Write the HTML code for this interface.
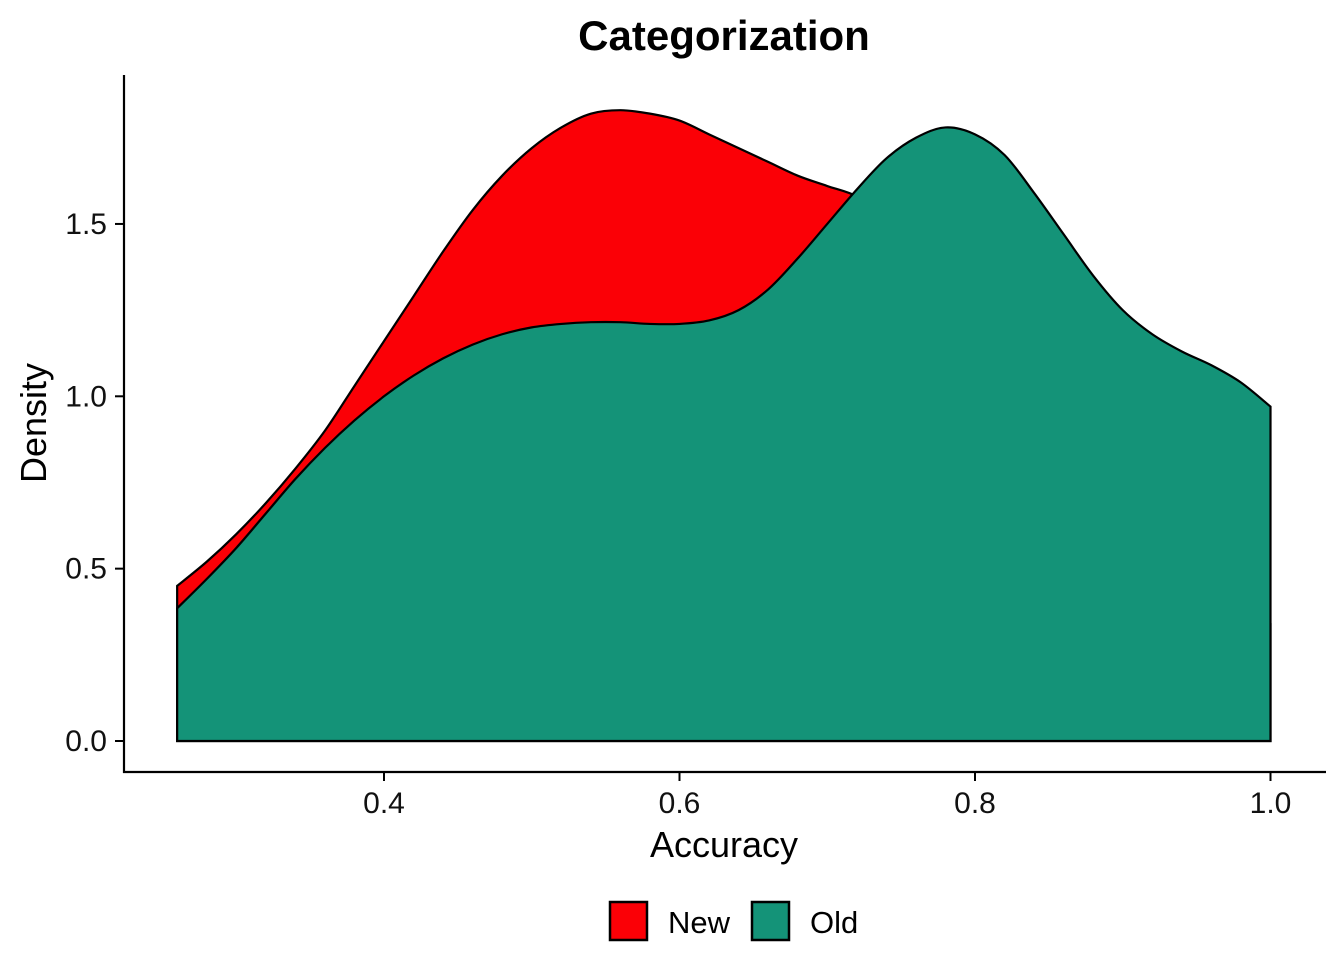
<!DOCTYPE html>
<html><head><meta charset="utf-8"><style>
body{margin:0;background:#fff}
svg text{font-family:"Liberation Sans",Arial,sans-serif}
</style></head><body>
<svg id="chart" width="1344" height="960" viewBox="0 0 1344 960" xmlns="http://www.w3.org/2000/svg">
<rect width="1344" height="960" fill="#fff"/>
<text x="724" y="50" text-anchor="middle" font-size="42" font-weight="bold">Categorization</text>
<g id="plot"></g>
<line x1="124" y1="75" x2="124" y2="773" stroke="#000" stroke-width="2.2"/>
<line x1="123" y1="772" x2="1326" y2="772" stroke="#000" stroke-width="2.2"/>
<g id="xt"></g><g id="yt"></g>
<text x="724" y="857" text-anchor="middle" font-size="36">Accuracy</text>
<text transform="translate(46,423) rotate(-90)" text-anchor="middle" font-size="36">Density</text>
<g>
<g>
<rect x="610" y="902" width="37" height="38" fill="#FB0006" stroke="#000" stroke-width="2.5"/>
<text x="668" y="933" font-size="31">New</text></g>
<g>
<rect x="752" y="902" width="37" height="38" fill="#149378" stroke="#000" stroke-width="2.5"/>
<text x="810" y="933" font-size="31">Old</text></g>
</g>
</svg>
<script>
const xs=[0.26,0.28,0.30,0.32,0.34,0.36,0.38,0.40,0.42,0.44,0.46,0.48,0.50,0.52,0.54,0.56,0.58,0.60,0.62,0.64,0.66,0.68,0.70,0.72,0.74,0.76,0.78,0.80,0.82,0.84,0.86,0.88,0.90,0.92,0.94,0.96,0.98,1.00];
const newVals=[0.45,0.52,0.60,0.69,0.79,0.90,1.03,1.16,1.29,1.42,1.54,1.64,1.72,1.78,1.82,1.83,1.82,1.80,1.76,1.72,1.68,1.64,1.61,1.58,1.52,1.44,1.34,1.22,1.10,0.98,0.86,0.75,0.65,0.56,0.49,0.43,0.38,0.34];
const oldVals=[0.385,0.47,0.56,0.66,0.76,0.85,0.93,1.00,1.06,1.11,1.15,1.18,1.20,1.21,1.215,1.215,1.21,1.21,1.22,1.25,1.31,1.40,1.50,1.60,1.69,1.75,1.78,1.76,1.70,1.59,1.47,1.35,1.25,1.18,1.13,1.09,1.04,0.97];
const xTicks=[0.4,0.6,0.8,1.0];
const xTickLabels=["0.4","0.6","0.8","1.0"];
const yTicks=[0,0.5,1,1.5];
const yTickLabels=["0.0","0.5","1.0","1.5"];
const NS="http://www.w3.org/2000/svg";
const X=v=>384+(v-0.4)*1477.5;
const Y=v=>741-v*344.7;
function smooth(pts){let d="M"+pts[0][0]+","+pts[0][1];
 for(let i=0;i<pts.length-1;i++){const p0=pts[Math.max(0,i-1)],p1=pts[i],p2=pts[i+1],p3=pts[Math.min(pts.length-1,i+2)];
 d+=" C"+(p1[0]+(p2[0]-p0[0])/6)+","+(p1[1]+(p2[1]-p0[1])/6)+" "+(p2[0]-(p3[0]-p1[0])/6)+","+(p2[1]-(p3[1]-p1[1])/6)+" "+p2[0]+","+p2[1];}
 return d;}
function area(vals,fill,name){
 const pts=xs.map((x,i)=>[X(x),Y(vals[i])]);
 const d="M"+X(xs[0])+","+Y(0)+" L"+smooth(pts).slice(1)+" L"+X(xs[xs.length-1])+","+Y(0)+" Z";
 const p=document.createElementNS(NS,"path");
 p.setAttribute("d",d);p.setAttribute("fill",fill);p.setAttribute("stroke","#000");p.setAttribute("stroke-width","2.2");
 
 
 document.getElementById("plot").appendChild(p);}
area(newVals,"#FB0006","density-new");
area(oldVals,"#149378","density-old");
const xt=document.getElementById("xt");
xTicks.forEach((t,i)=>{
 const l=document.createElementNS(NS,"line");
 l.setAttribute("x1",X(t));l.setAttribute("x2",X(t));l.setAttribute("y1",772);l.setAttribute("y2",781);l.setAttribute("stroke","#000");l.setAttribute("stroke-width","2");
 
 
 xt.appendChild(l);
 const tx=document.createElementNS(NS,"text");
 tx.setAttribute("x",X(t));tx.setAttribute("y",813);tx.setAttribute("text-anchor","middle");tx.setAttribute("font-size","30");tx.setAttribute("fill","#111");
 tx.textContent=xTickLabels[i];
 
 
 xt.appendChild(tx);});
const yt=document.getElementById("yt");
yTicks.forEach((t,i)=>{
 const l=document.createElementNS(NS,"line");
 l.setAttribute("x1",115);l.setAttribute("x2",124);l.setAttribute("y1",Y(t));l.setAttribute("y2",Y(t));l.setAttribute("stroke","#000");l.setAttribute("stroke-width","2");
 
 
 yt.appendChild(l);
 const tx=document.createElementNS(NS,"text");
 tx.setAttribute("x",107);tx.setAttribute("y",Y(t)+10);tx.setAttribute("text-anchor","end");tx.setAttribute("font-size","30");tx.setAttribute("fill","#111");
 tx.textContent=yTickLabels[i];
 
 
 yt.appendChild(tx);});
</script>
</body></html>
